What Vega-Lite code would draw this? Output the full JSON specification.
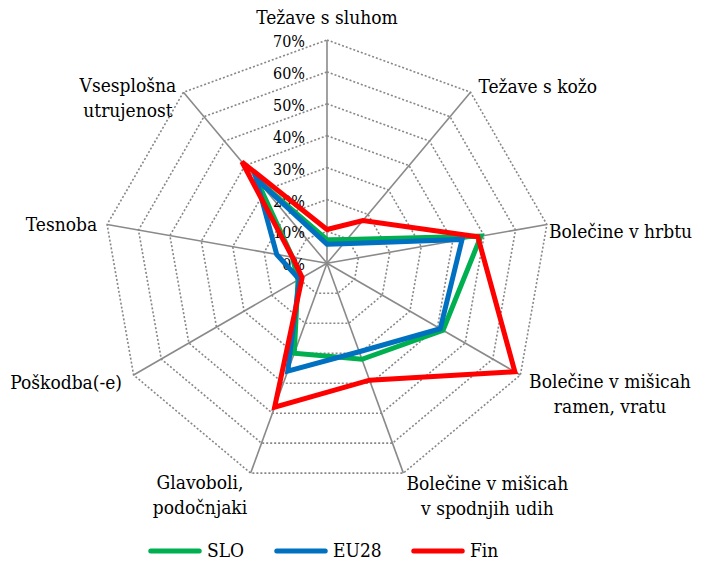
{
  "$schema": "https://vega.github.io/schema/vega-lite/v6.json",
  "width": 702,
  "height": 561,
  "autosize": {"type": "none"},
  "padding": 0,
  "background": "white",
  "config": {
    "view": {"stroke": null},
    "font": "DejaVu Serif Condensed",
    "legend": {
      "orient": "none",
      "legendX": 148,
      "legendY": 524,
      "direction": "horizontal",
      "symbolType": "stroke",
      "symbolSize": 2350,
      "symbolStrokeWidth": 5,
      "labelFont": "DejaVu Serif Condensed",
      "labelFontSize": 19,
      "labelColor": "black",
      "labelOffset": 5,
      "columnPadding": 21,
      "padding": 0
    }
  },
  "datasets": {
    "cats": [
      {"cat": "Težave s sluhom", "label": "Težave s sluhom"},
      {"cat": "Težave s kožo", "label": "Težave s kožo"},
      {"cat": "Bolečine v hrbtu", "label": "Bolečine v hrbtu"},
      {"cat": "Bolečine v mišicah ramen, vratu", "label": "Bolečine v mišicah\nramen, vratu"},
      {"cat": "Bolečine v mišicah v spodnjih udih", "label": "Bolečine v mišicah\nv spodnjih udih"},
      {"cat": "Glavoboli, podočnjaki", "label": "Glavoboli,\npodočnjaki"},
      {"cat": "Poškodba(-e)", "label": "Poškodba(-e)"},
      {"cat": "Tesnoba", "label": "Tesnoba"},
      {"cat": "Vsesplošna utrujenost", "label": "Vsesplošna\nutrujenost"}
    ],
    "rings": [
      {"level": 10, "cat": ["Težave s sluhom", "Težave s kožo", "Bolečine v hrbtu", "Bolečine v mišicah ramen, vratu", "Bolečine v mišicah v spodnjih udih", "Glavoboli, podočnjaki", "Poškodba(-e)", "Tesnoba", "Vsesplošna utrujenost"]},
      {"level": 20, "cat": ["Težave s sluhom", "Težave s kožo", "Bolečine v hrbtu", "Bolečine v mišicah ramen, vratu", "Bolečine v mišicah v spodnjih udih", "Glavoboli, podočnjaki", "Poškodba(-e)", "Tesnoba", "Vsesplošna utrujenost"]},
      {"level": 30, "cat": ["Težave s sluhom", "Težave s kožo", "Bolečine v hrbtu", "Bolečine v mišicah ramen, vratu", "Bolečine v mišicah v spodnjih udih", "Glavoboli, podočnjaki", "Poškodba(-e)", "Tesnoba", "Vsesplošna utrujenost"]},
      {"level": 40, "cat": ["Težave s sluhom", "Težave s kožo", "Bolečine v hrbtu", "Bolečine v mišicah ramen, vratu", "Bolečine v mišicah v spodnjih udih", "Glavoboli, podočnjaki", "Poškodba(-e)", "Tesnoba", "Vsesplošna utrujenost"]},
      {"level": 50, "cat": ["Težave s sluhom", "Težave s kožo", "Bolečine v hrbtu", "Bolečine v mišicah ramen, vratu", "Bolečine v mišicah v spodnjih udih", "Glavoboli, podočnjaki", "Poškodba(-e)", "Tesnoba", "Vsesplošna utrujenost"]},
      {"level": 60, "cat": ["Težave s sluhom", "Težave s kožo", "Bolečine v hrbtu", "Bolečine v mišicah ramen, vratu", "Bolečine v mišicah v spodnjih udih", "Glavoboli, podočnjaki", "Poškodba(-e)", "Tesnoba", "Vsesplošna utrujenost"]},
      {"level": 70, "cat": ["Težave s sluhom", "Težave s kožo", "Bolečine v hrbtu", "Bolečine v mišicah ramen, vratu", "Bolečine v mišicah v spodnjih udih", "Glavoboli, podočnjaki", "Poškodba(-e)", "Tesnoba", "Vsesplošna utrujenost"]}
    ],
    "ticks": [
      {"level": 0, "t": "0%"}, {"level": 10, "t": "10%"}, {"level": 20, "t": "20%"}, {"level": 30, "t": "30%"},
      {"level": 40, "t": "40%"}, {"level": 50, "t": "50%"}, {"level": 60, "t": "60%"}, {"level": 70, "t": "70%"}
    ],
    "scores": [
      {"cat": "Težave s sluhom", "series": "SLO", "value": 7.4},
      {"cat": "Težave s kožo", "series": "SLO", "value": 9.7},
      {"cat": "Bolečine v hrbtu", "series": "SLO", "value": 49},
      {"cat": "Bolečine v mišicah ramen, vratu", "series": "SLO", "value": 42},
      {"cat": "Bolečine v mišicah v spodnjih udih", "series": "SLO", "value": 32},
      {"cat": "Glavoboli, podočnjaki", "series": "SLO", "value": 30},
      {"cat": "Poškodba(-e)", "series": "SLO", "value": 10.5},
      {"cat": "Tesnoba", "series": "SLO", "value": 11},
      {"cat": "Vsesplošna utrujenost", "series": "SLO", "value": 34.5},
      {"cat": "Težave s sluhom", "series": "EU28", "value": 6},
      {"cat": "Težave s kožo", "series": "EU28", "value": 8},
      {"cat": "Bolečine v hrbtu", "series": "EU28", "value": 43},
      {"cat": "Bolečine v mišicah ramen, vratu", "series": "EU28", "value": 41},
      {"cat": "Bolečine v mišicah v spodnjih udih", "series": "EU28", "value": 29.5},
      {"cat": "Glavoboli, podočnjaki", "series": "EU28", "value": 36},
      {"cat": "Poškodba(-e)", "series": "EU28", "value": 10},
      {"cat": "Tesnoba", "series": "EU28", "value": 16},
      {"cat": "Vsesplošna utrujenost", "series": "EU28", "value": 34.5},
      {"cat": "Težave s sluhom", "series": "Fin", "value": 10.6},
      {"cat": "Težave s kožo", "series": "Fin", "value": 17.5},
      {"cat": "Bolečine v hrbtu", "series": "Fin", "value": 48},
      {"cat": "Bolečine v mišicah ramen, vratu", "series": "Fin", "value": 68},
      {"cat": "Bolečine v mišicah v spodnjih udih", "series": "Fin", "value": 39},
      {"cat": "Glavoboli, podočnjaki", "series": "Fin", "value": 48},
      {"cat": "Poškodba(-e)", "series": "Fin", "value": 9},
      {"cat": "Tesnoba", "series": "Fin", "value": 11},
      {"cat": "Vsesplošna utrujenost", "series": "Fin", "value": 41.5}
    ]
  },
  "layer": [
    {
      "data": {"name": "rings"},
      "transform": [
        {"flatten": ["cat"]},
        {"calculate": "indexof(['Težave s sluhom','Težave s kožo','Bolečine v hrbtu','Bolečine v mišicah ramen, vratu','Bolečine v mišicah v spodnjih udih','Glavoboli, podočnjaki','Poškodba(-e)','Tesnoba','Vsesplošna utrujenost'], datum.cat)", "as": "idx"},
        {"calculate": "datum.level * sin(datum.idx * 2 * PI / 9)", "as": "px"},
        {"calculate": "datum.level * cos(datum.idx * 2 * PI / 9)", "as": "py"}
      ],
      "mark": {"type": "line", "interpolate": "linear-closed", "stroke": "#878787", "strokeWidth": 1.6, "strokeDash": [2, 2], "clip": false},
      "encoding": {
        "x": {"field": "px", "type": "quantitative", "scale": {"domain": [-102.5, 117.55], "nice": false, "zero": false}, "axis": null},
        "y": {"field": "py", "type": "quantitative", "scale": {"domain": [-93.32, 82.54], "nice": false, "zero": false}, "axis": null},
        "detail": {"field": "level", "type": "nominal"},
        "order": {"field": "idx", "type": "quantitative"}
      }
    },
    {
      "data": {"name": "cats"},
      "transform": [
        {"calculate": "indexof(['Težave s sluhom','Težave s kožo','Bolečine v hrbtu','Bolečine v mišicah ramen, vratu','Bolečine v mišicah v spodnjih udih','Glavoboli, podočnjaki','Poškodba(-e)','Tesnoba','Vsesplošna utrujenost'], datum.cat)", "as": "idx"},
        {"calculate": "70 * sin(datum.idx * 2 * PI / 9)", "as": "px"},
        {"calculate": "70 * cos(datum.idx * 2 * PI / 9)", "as": "py"}
      ],
      "mark": {"type": "rule", "stroke": "#8a8a8a", "strokeWidth": 1.6, "clip": false},
      "encoding": {
        "x": {"field": "px", "type": "quantitative"},
        "y": {"field": "py", "type": "quantitative"},
        "x2": {"datum": 0},
        "y2": {"datum": 0}
      }
    },
    {
      "data": {"name": "ticks"},
      "mark": {"type": "text", "align": "right", "baseline": "middle", "dx": -22, "dy": 2, "fontSize": 16, "font": "DejaVu Serif Condensed", "color": "black"},
      "encoding": {
        "x": {"datum": 0, "type": "quantitative"},
        "y": {"field": "level", "type": "quantitative"},
        "text": {"field": "t"}
      }
    },
    {
      "data": {"name": "scores"},
      "transform": [
        {"filter": "datum.series == 'SLO'"},
        {"calculate": "indexof(['Težave s sluhom','Težave s kožo','Bolečine v hrbtu','Bolečine v mišicah ramen, vratu','Bolečine v mišicah v spodnjih udih','Glavoboli, podočnjaki','Poškodba(-e)','Tesnoba','Vsesplošna utrujenost'], datum.cat)", "as": "idx"},
        {"calculate": "datum.value * sin(datum.idx * 2 * PI / 9)", "as": "px"},
        {"calculate": "datum.value * cos(datum.idx * 2 * PI / 9)", "as": "py"}
      ],
      "mark": {"type": "line", "interpolate": "linear-closed", "strokeWidth": 5, "strokeJoin": "miter", "clip": false},
      "encoding": {
        "x": {"field": "px", "type": "quantitative"},
        "y": {"field": "py", "type": "quantitative"},
        "order": {"field": "idx", "type": "quantitative"},
        "color": {"field": "series", "type": "nominal", "scale": {"domain": ["SLO", "EU28", "Fin"], "range": ["#00B050", "#0070C0", "#FF0000"]}, "legend": {"title": null, "encode": {"symbols": {"update": {"strokeCap": {"value": "round"}}}}}}
      }
    },
    {
      "data": {"name": "scores"},
      "transform": [
        {"filter": "datum.series == 'EU28'"},
        {"calculate": "indexof(['Težave s sluhom','Težave s kožo','Bolečine v hrbtu','Bolečine v mišicah ramen, vratu','Bolečine v mišicah v spodnjih udih','Glavoboli, podočnjaki','Poškodba(-e)','Tesnoba','Vsesplošna utrujenost'], datum.cat)", "as": "idx"},
        {"calculate": "datum.value * sin(datum.idx * 2 * PI / 9)", "as": "px"},
        {"calculate": "datum.value * cos(datum.idx * 2 * PI / 9)", "as": "py"}
      ],
      "mark": {"type": "line", "interpolate": "linear-closed", "strokeWidth": 5, "strokeJoin": "miter", "clip": false},
      "encoding": {
        "x": {"field": "px", "type": "quantitative"},
        "y": {"field": "py", "type": "quantitative"},
        "order": {"field": "idx", "type": "quantitative"},
        "color": {"field": "series", "type": "nominal"}
      }
    },
    {
      "data": {"name": "scores"},
      "transform": [
        {"filter": "datum.series == 'Fin'"},
        {"calculate": "indexof(['Težave s sluhom','Težave s kožo','Bolečine v hrbtu','Bolečine v mišicah ramen, vratu','Bolečine v mišicah v spodnjih udih','Glavoboli, podočnjaki','Poškodba(-e)','Tesnoba','Vsesplošna utrujenost'], datum.cat)", "as": "idx"},
        {"calculate": "datum.value * sin(datum.idx * 2 * PI / 9)", "as": "px"},
        {"calculate": "datum.value * cos(datum.idx * 2 * PI / 9)", "as": "py"}
      ],
      "mark": {"type": "line", "interpolate": "linear-closed", "strokeWidth": 5, "strokeJoin": "miter", "clip": false},
      "encoding": {
        "x": {"field": "px", "type": "quantitative"},
        "y": {"field": "py", "type": "quantitative"},
        "order": {"field": "idx", "type": "quantitative"},
        "color": {"field": "series", "type": "nominal"}
      }
    },
    {
      "data": {"name": "cats"},
      "transform": [
        {"calculate": "indexof(['Težave s sluhom','Težave s kožo','Bolečine v hrbtu','Bolečine v mišicah ramen, vratu','Bolečine v mišicah v spodnjih udih','Glavoboli, podočnjaki','Poškodba(-e)','Tesnoba','Vsesplošna utrujenost'], datum.cat)", "as": "idx"},
        {"calculate": "70 * sin(datum.idx * 2 * PI / 9)", "as": "px"},
        {"calculate": "70 * cos(datum.idx * 2 * PI / 9)", "as": "py"}
      ],
      "layer": [
        {"transform": [{"filter": "datum.idx == 0"}], "mark": {"type": "text", "align": "center", "baseline": "middle", "dy": -21.7, "fontSize": 19, "font": "DejaVu Serif Condensed", "color": "black", "lineBreak": "\n", "lineHeight": 25}},
        {"transform": [{"filter": "datum.idx == 1"}], "mark": {"type": "text", "align": "left", "baseline": "middle", "dx": 8, "dy": -5, "fontSize": 19, "font": "DejaVu Serif Condensed", "color": "black", "lineBreak": "\n", "lineHeight": 25}},
        {"transform": [{"filter": "datum.idx == 2"}], "mark": {"type": "text", "align": "left", "baseline": "middle", "dx": 2, "dy": 7.5, "fontSize": 19, "font": "DejaVu Serif Condensed", "color": "black", "lineBreak": "\n", "lineHeight": 25}},
        {"transform": [{"filter": "datum.idx == 3"}], "mark": {"type": "text", "align": "center", "baseline": "middle", "dx": 89.6, "dy": 6.6, "fontSize": 19, "font": "DejaVu Serif Condensed", "color": "black", "lineBreak": "\n", "lineHeight": 25}},
        {"transform": [{"filter": "datum.idx == 4"}], "mark": {"type": "text", "align": "center", "baseline": "middle", "dx": 84, "dy": 11, "fontSize": 19, "font": "DejaVu Serif Condensed", "color": "black", "lineBreak": "\n", "lineHeight": 25}},
        {"transform": [{"filter": "datum.idx == 5"}], "mark": {"type": "text", "align": "center", "baseline": "middle", "dx": -50.6, "dy": 9.4, "fontSize": 19, "font": "DejaVu Serif Condensed", "color": "black", "lineBreak": "\n", "lineHeight": 25}},
        {"transform": [{"filter": "datum.idx == 6"}], "mark": {"type": "text", "align": "right", "baseline": "middle", "dx": -11.6, "dy": 8, "fontSize": 19, "font": "DejaVu Serif Condensed", "color": "black", "lineBreak": "\n", "lineHeight": 25}},
        {"transform": [{"filter": "datum.idx == 7"}], "mark": {"type": "text", "align": "right", "baseline": "middle", "dx": -10, "dy": 0.5, "fontSize": 19, "font": "DejaVu Serif Condensed", "color": "black", "lineBreak": "\n", "lineHeight": 25}},
        {"transform": [{"filter": "datum.idx == 8"}], "mark": {"type": "text", "align": "center", "baseline": "middle", "dx": -55.5, "dy": -6.4, "fontSize": 19, "font": "DejaVu Serif Condensed", "color": "black", "lineBreak": "\n", "lineHeight": 25}}
      ],
      "encoding": {
        "x": {"field": "px", "type": "quantitative"},
        "y": {"field": "py", "type": "quantitative"},
        "text": {"field": "label"}
      }
    }
  ]
}
